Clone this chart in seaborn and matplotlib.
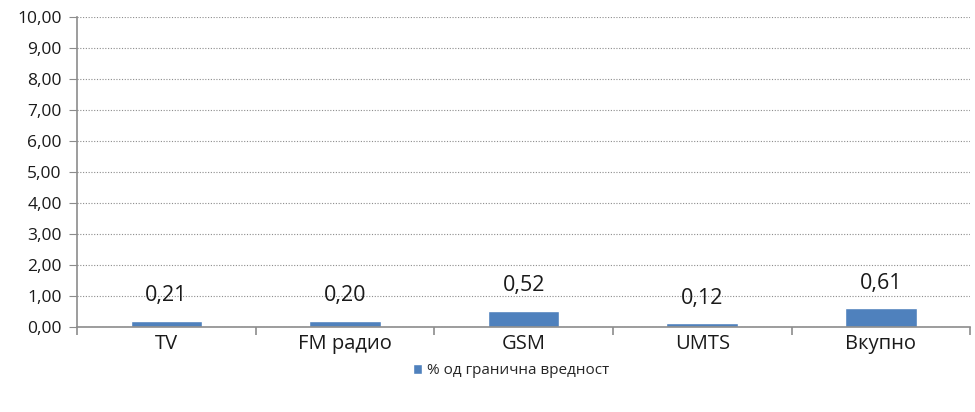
import matplotlib
matplotlib.use("Agg")
import matplotlib.pyplot as plt
import seaborn as sns
import numpy as np
from matplotlib.ticker import FuncFormatter, FixedLocator

# податоци
categories = ["TV", "FM радио", "GSM", "UMTS", "Вкупно"]
values = [0.21, 0.20, 0.52, 0.12, 0.61]
value_labels = ["0,21", "0,20", "0,52", "0,12", "0,61"]
series_name = "% од гранична вредност"

sns.set_style("white")
plt.rcParams["font.family"] = ["Open Sans", "DejaVu Sans"]

fig = plt.figure(figsize=(9.75, 4.12), dpi=100)
ax = fig.add_axes([0.079, 0.206, 0.916, 0.753])

bar_color = "#4F81BD"
sns.barplot(x=categories, y=values, color=bar_color, width=0.4,
            label=series_name, ax=ax, saturation=1)

ax.set_ylim(0, 10)
ax.set_xlim(-0.5, len(categories) - 0.5)
ax.set_yticks(np.arange(0, 11, 1))
ax.yaxis.set_major_formatter(FuncFormatter(lambda v, p: f"{v:.2f}".replace(".", ",")))
ax.grid(axis="y", color="#8c8c8c", linestyle=(0, (1, 1.5)), linewidth=0.8)
ax.set_axisbelow(True)

for s in ["top", "right"]:
    ax.spines[s].set_visible(False)
for s in ["left", "bottom"]:
    ax.spines[s].set_color("#8c8c8c")
    ax.spines[s].set_linewidth(1.2)

ax.tick_params(axis="y", left=True, length=6, color="#8c8c8c", labelsize=12.5,
               pad=5, labelcolor="#1a1a1a")
ax.tick_params(axis="x", which="major", length=0, labelsize=14.5, pad=5,
               labelcolor="#1a1a1a")
ax.xaxis.set_minor_locator(FixedLocator(np.arange(-0.5, len(categories), 1)))
ax.tick_params(axis="x", which="minor", bottom=True, length=6, color="#8c8c8c", width=1.2)
ax.set_xlabel("")
ax.set_ylabel("")

for i, (v, lab) in enumerate(zip(values, value_labels)):
    ax.annotate(lab, (i, v), xytext=(0, 18), textcoords="offset points",
                ha="center", va="center", fontsize=15.5, color="#1a1a1a")

ax.legend(loc="center", bbox_to_anchor=(0.486, -0.14), frameon=False,
          fontsize=11, handlelength=0.6, handleheight=0.6, handletextpad=0.3)

fig.savefig("out.png", dpi=100)
